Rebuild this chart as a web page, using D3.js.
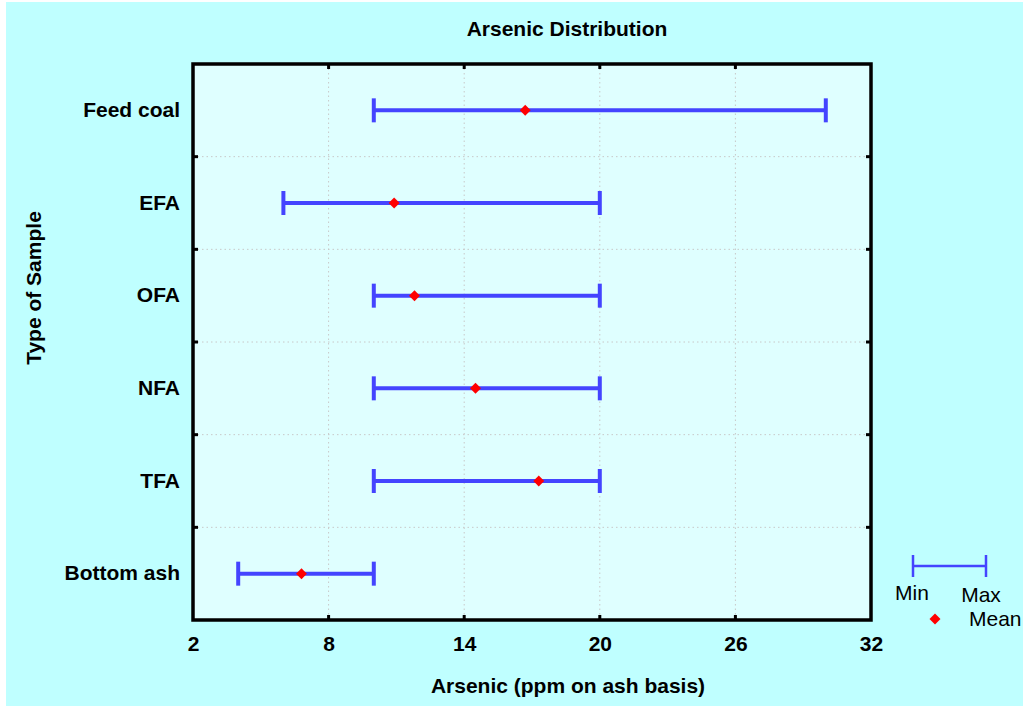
<!DOCTYPE html>
<html>
<head>
<meta charset="utf-8">
<script src="https://cdn.jsdelivr.net/npm/d3@7"></script>
<style>
  body { margin: 0; background: #fff; }
  svg { display: block; font-family: "Liberation Sans", Arial, sans-serif; }
</style>
</head>
<body>
<svg id="chart" width="1023" height="706"></svg>
<script>
// data
const categories = ["Feed coal", "EFA", "OFA", "NFA", "TFA", "Bottom ash"];
const minValues  = [10, 6, 10, 10, 10, 4];
const maxValues  = [30, 20, 20, 20, 20, 10];
const meanValues = [16.7, 10.9, 11.8, 14.5, 17.3, 6.8];
const xTicks = [2, 8, 14, 20, 26, 32];

const W = 1023, H = 706;
const plotL = 193, plotR = 871, plotT = 64, plotB = 620;
const fs = 21;

const svg = d3.select("#chart");

// outer background
svg.append("rect")
  .attr("x", 6).attr("y", 2)
  .attr("width", W - 6).attr("height", H - 2)
  .attr("fill", "#bfffff");

// plot area
svg.append("rect")
  .attr("x", plotL).attr("y", plotT)
  .attr("width", plotR - plotL).attr("height", plotB - plotT)
  .attr("fill", "#dfffff");

const x = d3.scaleLinear().domain([2, 32]).range([plotL, plotR]);
const y = d3.scaleBand().domain(categories).range([plotT, plotB]).padding(0);
const bandEdges = categories.slice(1).map(c => y(c));

// grid
const grid = svg.append("g").attr("stroke", "#c8c8c8").attr("stroke-width", 1)
  .attr("stroke-dasharray", "1.5,3");
grid.selectAll(".gv").data(xTicks.slice(1, -1)).join("line")
  .attr("x1", d => x(d)).attr("x2", d => x(d))
  .attr("y1", plotT).attr("y2", plotB);
grid.selectAll(".gh").data(bandEdges).join("line")
  .attr("x1", plotL).attr("x2", plotR)
  .attr("y1", d => d).attr("y2", d => d);

// axes (tick labels only, ticks drawn inward)
const xAxis = svg.append("g")
  .attr("transform", `translate(0,${plotB})`)
  .call(d3.axisBottom(x).tickValues(xTicks).tickSize(0).tickPadding(16));
xAxis.select(".domain").remove();
xAxis.selectAll("text")
  .attr("font-size", fs).attr("font-weight", "bold").attr("fill", "#000")
  .attr("font-family", "Liberation Sans, Arial, sans-serif");

const yAxis = svg.append("g")
  .attr("transform", `translate(${plotL},0)`)
  .call(d3.axisLeft(y).tickSize(0).tickPadding(13));
yAxis.select(".domain").remove();
yAxis.selectAll("text")
  .attr("font-size", fs).attr("font-weight", "bold").attr("fill", "#000")
  .attr("font-family", "Liberation Sans, Arial, sans-serif");

// inward tick marks on all four sides
const tk = svg.append("g").attr("stroke", "#000").attr("stroke-width", 3);
xTicks.slice(1, -1).forEach(v => {
  tk.append("line").attr("x1", x(v)).attr("x2", x(v)).attr("y1", plotB).attr("y2", plotB - 5);
  tk.append("line").attr("x1", x(v)).attr("x2", x(v)).attr("y1", plotT).attr("y2", plotT + 5);
});
bandEdges.forEach(v => {
  tk.append("line").attr("x1", plotL).attr("x2", plotL + 5).attr("y1", v).attr("y2", v);
  tk.append("line").attr("x1", plotR).attr("x2", plotR - 5).attr("y1", v).attr("y2", v);
});

// range bars
const rows = categories.map((c, i) => ({ c, min: minValues[i], max: maxValues[i], mean: meanValues[i] }));
const bars = svg.append("g").attr("stroke", "#4444ff").attr("stroke-width", 4);
rows.forEach(d => {
  const cy = y(d.c) + y.bandwidth() / 2;
  bars.append("line").attr("x1", x(d.min)).attr("x2", x(d.max)).attr("y1", cy).attr("y2", cy);
  bars.append("line").attr("x1", x(d.min)).attr("x2", x(d.min)).attr("y1", cy - 12).attr("y2", cy + 12);
  bars.append("line").attr("x1", x(d.max)).attr("x2", x(d.max)).attr("y1", cy - 12).attr("y2", cy + 12);
});

const diamond = d3.symbol().type(d3.symbolSquare).size(60);
svg.append("g").selectAll("path").data(rows).join("path")
  .attr("d", diamond)
  .attr("transform", d => `translate(${x(d.mean)},${y(d.c) + y.bandwidth() / 2}) rotate(45)`)
  .attr("fill", "#ff0000");

// frame
svg.append("rect")
  .attr("x", plotL).attr("y", plotT)
  .attr("width", plotR - plotL).attr("height", plotB - plotT)
  .attr("fill", "none").attr("stroke", "#000").attr("stroke-width", 3.5);

// titles
svg.append("text").attr("x", 567).attr("y", 36)
  .attr("text-anchor", "middle").attr("font-size", fs).attr("font-weight", "bold")
  .text("Arsenic Distribution");
svg.append("text").attr("x", 568).attr("y", 693)
  .attr("text-anchor", "middle").attr("font-size", fs).attr("font-weight", "bold")
  .text("Arsenic (ppm on ash basis)");
svg.append("text")
  .attr("transform", "translate(41,288) rotate(-90)")
  .attr("text-anchor", "middle").attr("font-size", fs).attr("font-weight", "bold")
  .text("Type of Sample");

// legend
const lg = svg.append("g");
const lgY = 566;
lg.append("g").attr("stroke", "#4444ff").attr("stroke-width", 2.5)
  .call(g => {
    g.append("line").attr("x1", 913).attr("x2", 986).attr("y1", lgY).attr("y2", lgY);
    g.append("line").attr("x1", 913).attr("x2", 913).attr("y1", lgY - 11).attr("y2", lgY + 11);
    g.append("line").attr("x1", 986).attr("x2", 986).attr("y1", lgY - 11).attr("y2", lgY + 11);
  });
lg.append("text").attr("x", 912).attr("y", 600).attr("text-anchor", "middle")
  .attr("font-size", fs).text("Min");
lg.append("text").attr("x", 981).attr("y", 602).attr("text-anchor", "middle")
  .attr("font-size", fs).text("Max");
lg.append("path").attr("d", diamond)
  .attr("transform", `translate(935,619) rotate(45)`).attr("fill", "#ff0000");
lg.append("text").attr("x", 969).attr("y", 626).attr("font-size", fs).text("Mean");
</script>
</body>
</html>
